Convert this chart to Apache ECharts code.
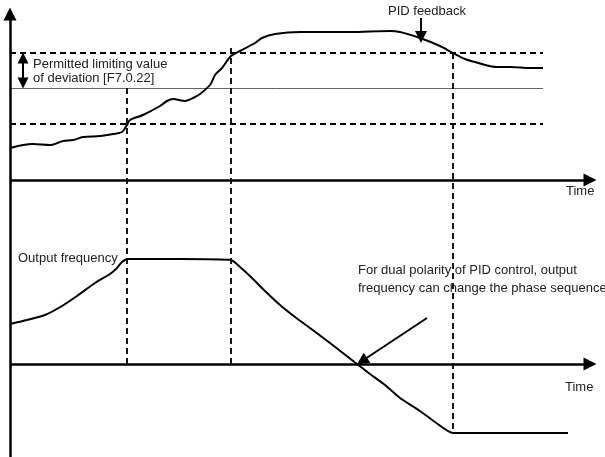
<!DOCTYPE html>
<html>
<head>
<meta charset="UTF-8">
<script src="https://cdn.jsdelivr.net/npm/echarts@6/dist/echarts.min.js"></script>
<style>
  html, body { margin: 0; padding: 0; background: #fff; }
  #chart { width: 605px; height: 457px; }
</style>
</head>
<body>
<div id="chart"></div>
<script>
// diagram units: x = time, y = level (drawn downward)
var feedbackCurve = [
  [10, 148], [23, 145], [33, 144], [50, 145], [63, 141], [73, 140], [83, 137],
  [100, 136], [113, 134], [122, 132], [127, 125], [130, 120], [143, 115],
  [160, 106], [167, 101], [173, 99], [185, 101], [195, 97], [200, 94],
  [210, 85], [215, 75], [222, 68], [231, 56], [240, 51], [255, 43], [262, 38],
  [275, 34], [300, 32], [350, 32], [390, 31], [400, 32], [420, 38], [440, 46],
  [453, 53], [465, 59], [475, 62], [497, 67], [510, 67], [530, 68], [543, 68]
];
var frequencyCurve = [
  [10, 324], [27, 320], [45, 315], [62, 306], [77, 296], [95, 283], [110, 274],
  [117, 268], [122, 262], [128, 259], [180, 259], [231, 260], [240, 267],
  [252, 278], [265, 291], [280, 305], [295, 317], [310, 328], [330, 343],
  [357, 364], [370, 374], [385, 385], [400, 398], [420, 411], [435, 422],
  [453, 433], [568, 433]
];
var upperLimit = 53, setpoint = 88, lowerLimit = 124;
var feedbackAxis = 180, frequencyAxis = 364;
var markTimes = [127, 231, 453];
var markTops = [88, 48, 53];
var markBottoms = [364, 364, 433];
var levelEnd = 543, axisStart = 10, axisEnd = 590;

var chart = echarts.init(document.getElementById('chart'));

var dashed = [];
[upperLimit, lowerLimit].forEach(function (y) {
  dashed.push({ coords: [[axisStart, y], [levelEnd, y]] });
});
markTimes.forEach(function (t, i) {
  dashed.push({ coords: [[t, markTops[i]], [t, markBottoms[i]]] });
});

var font = 'Liberation Sans, Arial, sans-serif';
function txt(x, y, s) {
  return {
    type: 'text', left: x, top: y - 7,
    style: { text: s, fill: '#222', font: '13px ' + font }
  };
}

chart.setOption({
  animation: false,
  grid: { left: 0, right: 0, top: 0, bottom: 0 },
  xAxis: { type: 'value', min: 0, max: 605, show: false },
  yAxis: { type: 'value', min: 0, max: 457, inverse: true, show: false },
  series: [
    {
      name: 'setpoint', type: 'lines', coordinateSystem: 'cartesian2d',
      lineStyle: { color: '#666', width: 1, opacity: 1 },
      data: [{ coords: [[axisStart, setpoint], [levelEnd, setpoint]] }]
    },
    {
      name: 'limits', type: 'lines', coordinateSystem: 'cartesian2d',
      lineStyle: { color: '#000', width: 1.8, type: [6, 4], opacity: 1 },
      data: dashed
    },
    {
      name: 'axes', type: 'lines', coordinateSystem: 'cartesian2d',
      symbol: ['none', 'triangle'], symbolSize: [13, 13],
      itemStyle: { color: '#000' },
      lineStyle: { color: '#000', width: 2.5, opacity: 1 },
      data: [
        { coords: [[axisStart, 457], [axisStart, 14]] },
        { coords: [[axisStart, feedbackAxis], [axisEnd, feedbackAxis]] },
        { coords: [[axisStart, frequencyAxis], [axisEnd, frequencyAxis]] }
      ]
    },
    {
      name: 'deviation', type: 'lines', coordinateSystem: 'cartesian2d',
      symbol: ['triangle', 'triangle'], symbolSize: [11, 11],
      lineStyle: { color: '#000', width: 2, opacity: 1 },
      data: [{ coords: [[23, upperLimit + 5], [23, setpoint - 5]] }]
    },
    {
      name: 'pointers', type: 'lines', coordinateSystem: 'cartesian2d',
      symbol: ['none', 'triangle'], symbolSize: [12, 12],
      lineStyle: { color: '#000', width: 2, opacity: 1 },
      data: [
        { coords: [[421, 18], [421, 37]] },
        { coords: [[427, 318], [362, 361]] }
      ]
    },
    {
      name: 'PID feedback', type: 'line', data: feedbackCurve,
      showSymbol: false, smooth: 0.3,
      lineStyle: { color: '#000', width: 2 }
    },
    {
      name: 'Output frequency', type: 'line', data: frequencyCurve,
      showSymbol: false, smooth: 0.2,
      lineStyle: { color: '#000', width: 2 }
    }
  ],
  graphic: [
    txt(33, 65, 'Permitted limiting value'),
    txt(33, 79, 'of deviation [F7.0.22]'),
    txt(388, 12, 'PID feedback'),
    txt(566, 192, 'Time'),
    txt(18, 259, 'Output frequency'),
    txt(358, 271, 'For dual polarity of PID control, output'),
    txt(358, 289, 'frequency can change the phase sequence'),
    txt(565, 388, 'Time')
  ]
});
</script>
</body>
</html>
